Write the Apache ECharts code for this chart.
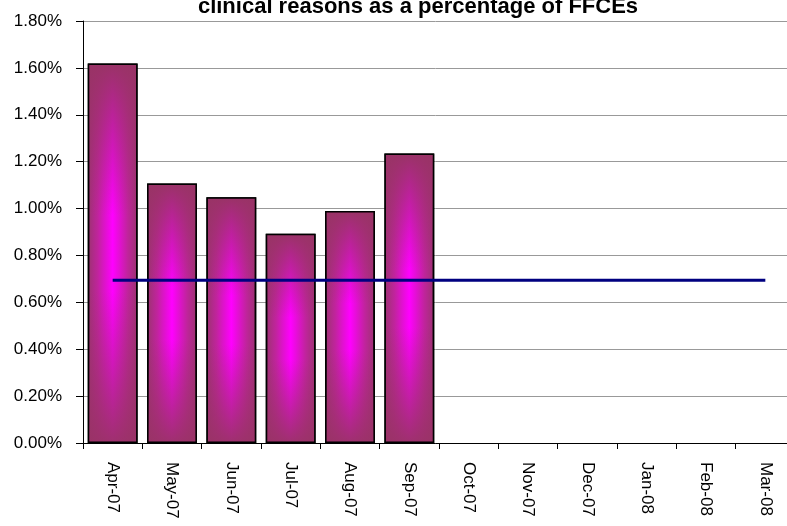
<!DOCTYPE html>
<html>
<head>
<meta charset="utf-8">
<script src="https://cdn.jsdelivr.net/npm/echarts@6/dist/echarts.min.js"></script>
<style>
html,body{margin:0;padding:0;background:#fff;}
#chart{width:787px;height:526px;}
</style>
</head>
<body>
<div id="chart"></div>
<script>
var titleText = 'clinical reasons as a percentage of FFCEs';
var months = ['Apr-07','May-07','Jun-07','Jul-07','Aug-07','Sep-07','Oct-07','Nov-07','Dec-07','Jan-08','Feb-08','Mar-08'];
var rates = [1.619, 1.107, 1.048, 0.893, 0.990, 1.235, null, null, null, null, null, null];
var target = [0.694, 0.694, 0.694, 0.694, 0.694, 0.694, 0.694, 0.694, 0.694, 0.694, 0.694, 0.694];

var chart = echarts.init(document.getElementById('chart'));
var font = 'Liberation Sans, Arial, sans-serif';
chart.setOption({
  animation: false,
  backgroundColor: '#fff',
  title: {
    text: titleText,
    left: 413, textAlign: 'center',
    top: -9,
    textStyle: {fontFamily: font, fontWeight: 'bold', fontSize: 22, color: '#000'}
  },
  grid: {left: 83, top: 21, width: 712, height: 422, containLabel: false, outerBoundsMode: 'none'},
  xAxis: {
    type: 'category',
    data: months,
    boundaryGap: true,
    axisLine: {lineStyle: {color: '#000', width: 1}},
    axisTick: {show: true, length: 6, inside: false, lineStyle: {color: '#000'}, alignWithLabel: false},
    axisLabel: {rotate: -90, margin: 19, fontFamily: font, fontSize: 17, color: '#000', interval: 0},
    splitLine: {show: false}
  },
  yAxis: {
    type: 'value',
    min: 0, max: 1.8, interval: 0.2,
    axisLine: {show: true, lineStyle: {color: '#000', width: 1}},
    axisTick: {show: true, length: 7, lineStyle: {color: '#000'}},
    axisLabel: {margin: 21, fontFamily: font, fontSize: 17, color: '#000',
      formatter: function (v) { return v.toFixed(2) + '%'; }},
    splitLine: {show: true, lineStyle: {color: '#999', width: 1}}
  },
  series: [
    {
      type: 'bar',
      data: rates,
      barCategoryGap: '16%',
      itemStyle: {
        borderColor: '#000', borderWidth: 1.5,
        color: new echarts.graphic.LinearGradient(0, 0, 1, 0, [
          {offset: 0, color: '#9B3370'},
          {offset: 0.2, color: '#C0249C'},
          {offset: 0.5, color: '#FF00FF'},
          {offset: 0.8, color: '#C0249C'},
          {offset: 1, color: '#9B3370'}
        ])
      },
      z: 2
    },
    {
      type: 'bar',
      data: rates,
      barGap: '-100%',
      barCategoryGap: '16%',
      silent: true,
      itemStyle: {
        borderColor: '#000', borderWidth: 1.5,
        color: new echarts.graphic.LinearGradient(0, 0, 0, 1, [
          {offset: 0, color: 'rgba(153,51,102,1)'},
          {offset: 0.4, color: 'rgba(153,51,102,0)'},
          {offset: 0.6, color: 'rgba(153,51,102,0)'},
          {offset: 1, color: 'rgba(153,51,102,0.95)'}
        ])
      },
      z: 3
    },
    {
      type: 'line',
      data: target,
      symbol: 'none',
      lineStyle: {color: '#000080', width: 3},
      z: 5
    }
  ]
});
</script>
</body>
</html>
